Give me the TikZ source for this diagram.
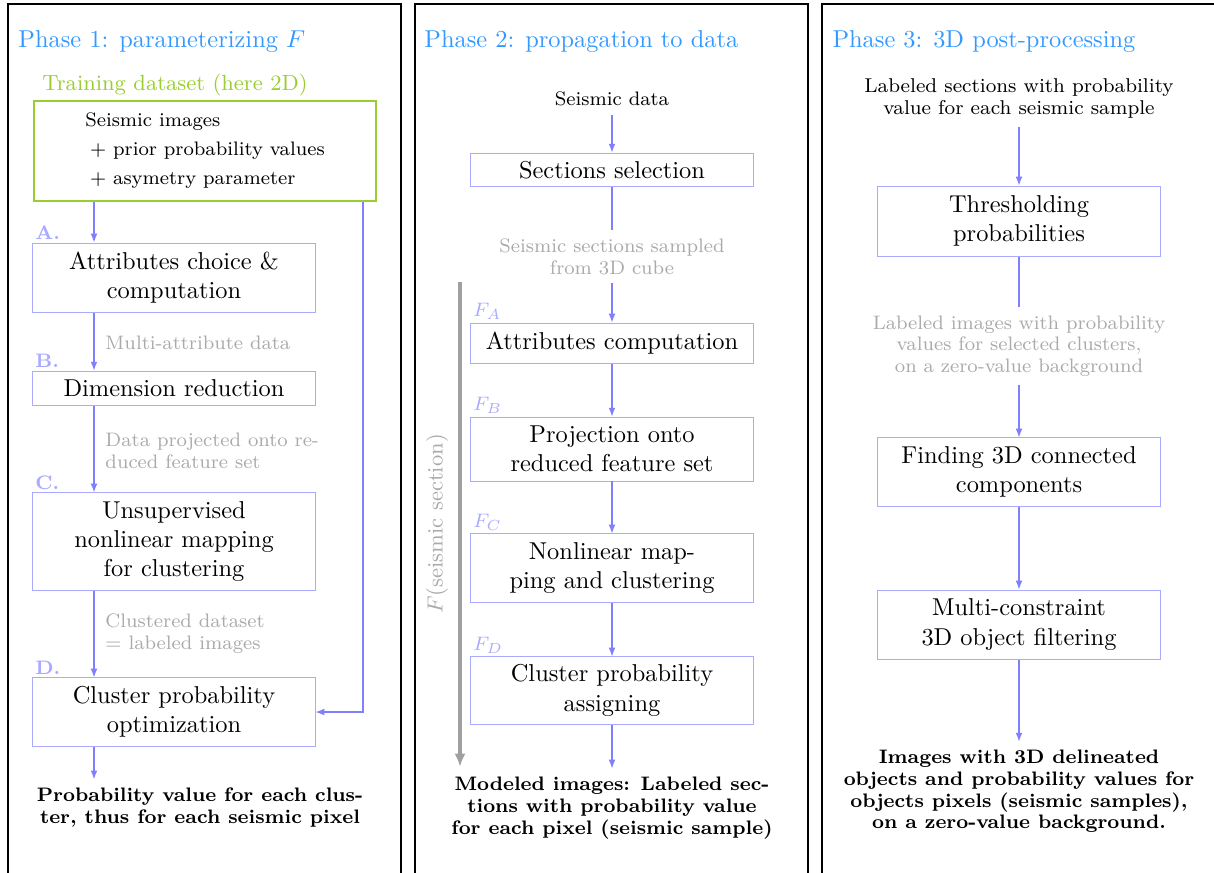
\documentclass[tikz,border=0pt]{standalone}
\usetikzlibrary{arrows.meta}
\definecolor{phaseblue}{RGB}{51,153,255}
\definecolor{traingreen}{RGB}{154,205,50}
\definecolor{boxblue}{RGB}{170,170,255}
\definecolor{arrowblue}{RGB}{128,128,255}
\definecolor{notegray}{RGB}{170,170,170}
\definecolor{fgray}{RGB}{160,160,160}
\begin{document}
\begin{tikzpicture}[x=0.4098pt, y=-0.4098pt,
  panel/.style={draw=black, line width=1.1pt},
  phase/.style={anchor=base west, inner sep=0pt, text=phaseblue},
  stepbox/.style={draw=boxblue, align=center, minimum width=115.6pt, inner sep=2pt},
  steplabel/.style={anchor=south west, inner sep=1pt, text=boxblue, font=\footnotesize\bfseries},
  note/.style={text=notegray, align=center, font=\fontsize{8}{8.9}\selectfont},
  result/.style={align=center, font=\fontsize{8}{8.9}\selectfont\bfseries},
  flow/.style={draw=arrowblue, line width=0.5pt, -{Latex[length=3.6pt,width=2.8pt]}},
  link/.style={draw=arrowblue, line width=0.5pt}]
  \useasboundingbox (0,0) rectangle (1214,872);
  \clip (0,0) rectangle (1214,872);

  % Pannelli
  \draw[panel] (8,4) rectangle (401,900);
  \draw[panel] (415,4) rectangle (808,900);
  \draw[panel] (822,4) rectangle (1218,900);

  % Phase 1
  \node[phase] (ph1) at (18,47) {Phase 1: parameterizing $F$};
  \node[anchor=base west, inner sep=0pt, text=traingreen, font=\small] (traintitle) at (42,90) {Training dataset (here 2D)};
  \node[draw=traingreen, line width=1.1pt, minimum width=140.2pt, minimum height=41pt, align=left,
        font=\fontsize{8}{8.9}\selectfont] (train) at (205,151)
        {Seismic images\\[3pt] \hspace*{2pt}$+$ prior probability values\\[3pt] \hspace*{2pt}$+$ asymetry parameter};
  \node[stepbox, minimum height=28.3pt] (choice) at (174,277.5) {Attributes choice \&\\computation};
  \node[stepbox, minimum height=14.3pt] (reduc) at (174,388.5) {Dimension reduction};
  \node[stepbox, minimum height=39.8pt] (unsup) at (174,541.5) {Unsupervised\\nonlinear mapping\\for clustering};
  \node[stepbox, minimum height=27.9pt] (optim) at (174,712) {Cluster probability\\optimization};
  \node[steplabel] (la) at (choice.north west) {A.};
  \node[steplabel] (lb) at (reduc.north west) {B.};
  \node[steplabel] (lc) at (unsup.north west) {C.};
  \node[steplabel] (ld) at (optim.north west) {D.};
  \node[note, anchor=west, inner sep=0pt] (multi) at (105,343) {Multi-attribute data};
  \node[note, anchor=west, inner sep=0pt, align=left] (proj1) at (105,450.5) {Data projected onto re-\\duced feature set};
  \node[note, anchor=west, inner sep=0pt, align=left] (clust) at (105,633.5) {Clustered dataset\\$=$ labeled images};
  \node[result] (res1) at (200,807.5) {Probability value for each clus-\\ter, thus for each seismic pixel};
  \coordinate (lane) at (94,0);
  \coordinate (side) at (363,0);
  \draw[flow] (train.south -| lane) -- (choice.north -| lane);
  \draw[flow] (choice.south -| lane) -- (reduc.north -| lane);
  \draw[flow] (reduc.south -| lane) -- (unsup.north -| lane);
  \draw[flow] (unsup.south -| lane) -- (optim.north -| lane);
  \draw[flow] (optim.south -| lane) -- (res1.north -| lane);
  \draw[flow] (train.south -| side) |- (optim.east);

  % Phase 2
  \node[phase] (ph2) at (424,47) {Phase 2: propagation to data};
  \node[font=\fontsize{8}{8.9}\selectfont] (seis) at (612,99) {Seismic data};
  \node[stepbox, minimum height=13.9pt] (select) at (612,170) {Sections selection};
  \node[note] (sampled) at (612,256.5) {Seismic sections sampled\\from 3D cube};
  \node[stepbox, minimum height=16.4pt] (attr) at (612,343) {Attributes computation};
  \node[stepbox, minimum height=26.2pt] (projb) at (612,449) {Projection onto\\reduced feature set};
  \node[stepbox, minimum height=27.9pt] (nonlin) at (612,568) {Nonlinear map-\\ping and clustering};
  \node[stepbox, minimum height=27.5pt] (assign) at (612,690.5) {Cluster probability\\assigning};
  \node[steplabel, font=\footnotesize] (fa) at (attr.north west) {$F_A$};
  \node[steplabel, font=\footnotesize] (fb) at (projb.north west) {$F_B$};
  \node[steplabel, font=\footnotesize] (fc) at (nonlin.north west) {$F_C$};
  \node[steplabel, font=\footnotesize] (fd) at (assign.north west) {$F_D$};
  \node[result] (res2) at (612,808) {Modeled images: Labeled sec-\\tions with probability value\\for each pixel (seismic sample)};
  \draw[flow] (seis) -- (select);
  \draw[link] (select) -- (sampled);
  \draw[flow] (sampled) -- (attr);
  \draw[flow] (attr) -- (projb);
  \draw[flow] (projb) -- (nonlin);
  \draw[flow] (nonlin) -- (assign);
  \draw[flow] (assign) -- (res2);
  % F sull'intera catena
  \coordinate (ftop) at (460,282);
  \coordinate (fbot) at (460,767);
  \draw[draw=fgray, line width=1.5pt, -{Latex[length=5.5pt,width=4.5pt]}] (ftop) -- (fbot);
  \node[rotate=90, text=notegray, font=\small] (fname) at (437,524) {$F$(seismic section)};

  % Phase 3
  \node[phase] (ph3) at (832,47) {Phase 3: 3D post-processing};
  \node[align=center, font=\fontsize{8.2}{8.9}\selectfont] (labsec) at (1019,98.5) {Labeled sections with probability\\value for each seismic sample};
  \node[stepbox, minimum height=28.7pt] (thresh) at (1019,221) {Thresholding\\probabilities};
  \node[note] (labimg) at (1019,346) {Labeled images with probability\\values for selected clusters,\\on a zero-value background};
  \node[stepbox, minimum height=27.9pt] (find) at (1019,472) {Finding 3D connected\\components};
  \node[stepbox, minimum height=28.3pt] (filt) at (1019,624.5) {Multi-constraint\\3D object filtering};
  \node[result] (res3) at (1019,791.5) {Images with 3D delineated\\objects and probability values for\\objects pixels (seismic samples),\\on a zero-value background.};
  \draw[flow] (labsec) -- (thresh);
  \draw[link] (thresh) -- (labimg);
  \draw[flow] (labimg) -- (find);
  \draw[flow] (find) -- (filt);
  \draw[flow] (filt) -- (res3);
\end{tikzpicture}
\end{document}
